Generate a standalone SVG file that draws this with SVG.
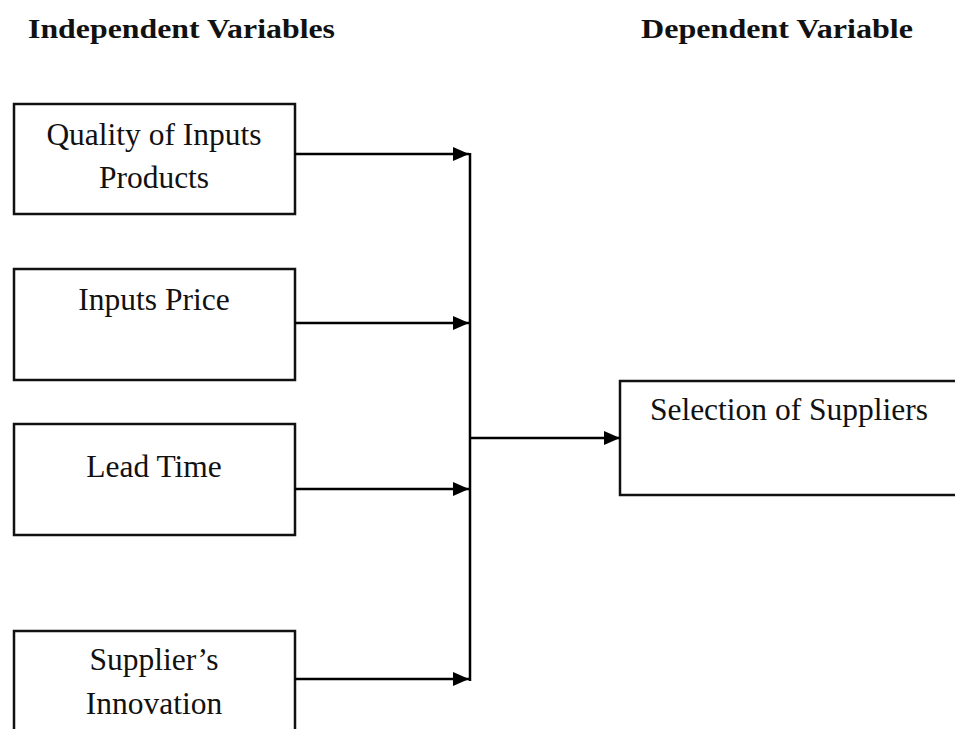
<svg xmlns="http://www.w3.org/2000/svg" width="955" height="729" viewBox="0 0 955 729">
<defs>
<marker id="ah" markerWidth="16" markerHeight="14" refX="16" refY="7" orient="auto" markerUnits="userSpaceOnUse">
<path d="M0,0 L16,7 L0,14 Z" fill="#000"/>
</marker>
<style>
.box{fill:#fff;stroke:#111;stroke-width:2.5}
.t{font-family:"Liberation Serif","Times New Roman",serif;font-size:31.5px;fill:#111;text-anchor:middle}
.h{font-family:"Liberation Serif","Times New Roman",serif;font-size:28px;font-weight:bold;fill:#111}
.c{stroke:#000;stroke-width:2.5;fill:none}
</style>
</defs>
<rect width="955" height="729" fill="#fff"/>
<text class="h" x="28" y="38" textLength="307" lengthAdjust="spacingAndGlyphs">Independent Variables</text>
<text class="h" x="641" y="38" textLength="272" lengthAdjust="spacingAndGlyphs">Dependent Variable</text>
<g id="n1"><rect class="box" x="14" y="104" width="281" height="110"/><text class="t" x="154" y="145">Quality of Inputs</text><text class="t" x="154" y="188">Products</text></g>
<g id="n2"><rect class="box" x="14" y="269" width="281" height="111"/><text class="t" x="154" y="310">Inputs Price</text></g>
<g id="n3"><rect class="box" x="14" y="424" width="281" height="111"/><text class="t" x="154" y="477">Lead Time</text></g>
<g id="n4"><rect class="box" x="14" y="631" width="281" height="110"/><text class="t" x="154" y="670">Supplier’s</text><text class="t" x="154" y="714">Innovation</text></g>
<g id="n5"><rect class="box" x="620" y="381" width="345" height="114"/><text class="t" x="789" y="420">Selection of Suppliers</text></g>
<g id="connectors">
<line class="c" x1="470" y1="153" x2="470" y2="681"/>
<line class="c" x1="295" y1="154" x2="469" y2="154" marker-end="url(#ah)"/>
<line class="c" x1="295" y1="323" x2="469" y2="323" marker-end="url(#ah)"/>
<line class="c" x1="295" y1="489" x2="469" y2="489" marker-end="url(#ah)"/>
<line class="c" x1="295" y1="679" x2="469" y2="679" marker-end="url(#ah)"/>
<line class="c" x1="470" y1="438" x2="620" y2="438" marker-end="url(#ah)"/>
</g>
</svg>
